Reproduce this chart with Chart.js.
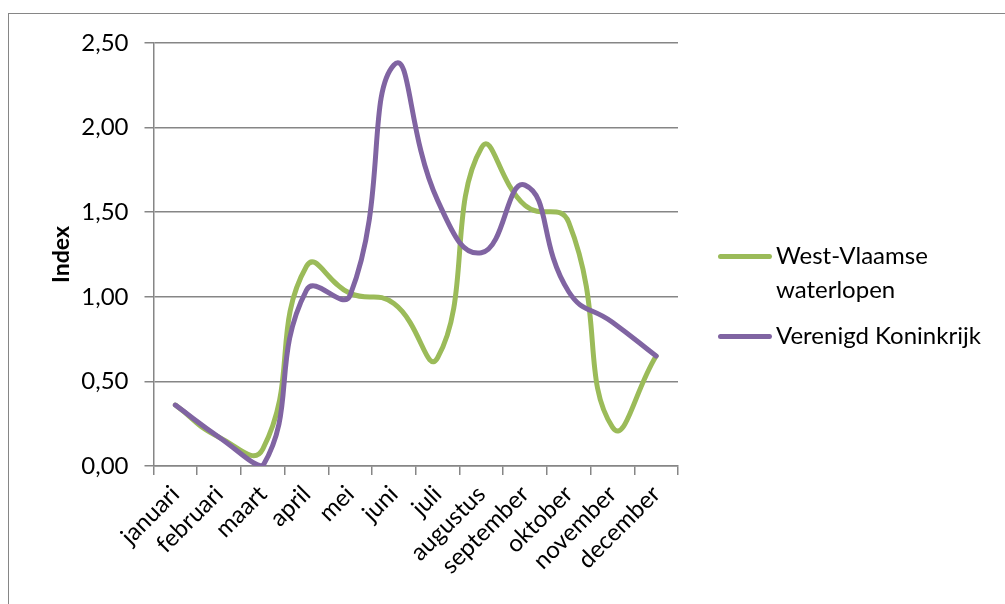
<!DOCTYPE html>
<html>
<head>
<meta charset="utf-8">
<script src="https://cdn.jsdelivr.net/npm/chart.js@4"></script>
<style>
  body { margin: 0; background: #fff; }
  #wrap { position: relative; width: 1005px; height: 604px; overflow: hidden; }
  #frame { position: absolute; left: 8px; top: 13px; width: 1100px; height: 700px;
           border-left: 1px solid #868686; border-top: 1px solid #868686; }
  #legend { position: absolute; left: 716px; top: 238px; font-family: Lato, sans-serif;
            font-size: 24px; color: #000; line-height: 34px; }
  .item { position: relative; padding-left: 60px; margin-bottom: 12px; }
  .swatch { position: absolute; left: 2px; top: 16px; width: 54px; height: 5px; border-radius: 3px; }
</style>
</head>
<body>
<div id="wrap">
  <div id="frame"></div>
  <canvas id="line"></canvas>
  <div id="legend"></div>
</div>
<script>
const months = ['januari', 'februari', 'maart', 'april', 'mei', 'juni', 'juli',
                'augustus', 'september', 'oktober', 'november', 'december'];
const westVlaamse = [0.36, 0.17, 0.10, 1.18, 1.02, 0.96, 0.64, 1.88, 1.54, 1.44, 0.23, 0.65];
const verenigdKoninkrijk = [0.36, 0.17, 0.00, 1.04, 1.01, 2.37, 1.57, 1.26, 1.66, 1.03, 0.85, 0.65];
const seriesNames = ['West-Vlaamse waterlopen', 'Verenigd Koninkrijk'];
const legendLines = [['West-Vlaamse', 'waterlopen'], ['Verenigd Koninkrijk']];
const colors = ['#9bbb59', '#8064a2'];

function initLineGraph() {
    var ctx = document.getElementById('line').getContext('2d');
    var grey = '#868686';
    var font = { family: 'Lato', size: 24 };

    var chart = new Chart(ctx, {
        type: 'line',
        data: {
            labels: months,
            datasets: [{
                label: seriesNames[0],
                data: westVlaamse,
                borderColor: colors[0],
                order: 2
            }, {
                label: seriesNames[1],
                data: verenigdKoninkrijk,
                borderColor: colors[1],
                order: 1
            }]
        },
        options: {
            responsive: false,
            animation: false,
            layout: { padding: { top: 43, right: 327, left: 0, bottom: 0 } },
            elements: {
                line: { borderWidth: 5, tension: 0.5, borderCapStyle: 'round', borderJoinStyle: 'round' },
                point: { radius: 0 }
            },
            plugins: {
                legend: { display: false },
                tooltip: { enabled: false }
            },
            scales: {
                x: {
                    offset: true,
                    afterFit: function (scale) { scale.height = 138; },
                    grid: { offset: true, drawOnChartArea: false, color: grey, lineWidth: 1.5, tickLength: 9 },
                    border: { color: grey, width: 1.5 },
                    ticks: { color: '#000', font: font, minRotation: 45, maxRotation: 45, padding: 5, autoSkip: false }
                },
                y: {
                    min: 0,
                    max: 2.5,
                    afterFit: function (scale) { scale.width = 153.5; },
                    grid: { color: grey, lineWidth: 1.5, tickLength: 9 },
                    border: { color: grey, width: 1.5 },
                    ticks: {
                        stepSize: 0.5,
                        color: '#000',
                        font: font,
                        padding: 16,
                        callback: function (v) { return v.toFixed(2).replace('.', ','); }
                    },
                    title: {
                        display: true,
                        text: 'Index',
                        color: '#000',
                        font: { family: 'Lato', size: 23, weight: 'bold' },
                        padding: { top: 48, bottom: 0 }
                    }
                }
            }
        }
    });

    // legend as html so the first name can wrap like the original
    var legend = document.getElementById('legend');
    for (let i = 0; i < legendLines.length; i++) {
        var item = document.createElement('div');
        item.className = 'item';
        item.innerHTML = '<span class="swatch" style="background:' + colors[i] + '"></span>' +
            legendLines[i].join('<br>');
        legend.appendChild(item);
    }
}

var cv = document.getElementById('line');
cv.width = 1005;
cv.height = 604;
initLineGraph();
</script>
</body>
</html>
